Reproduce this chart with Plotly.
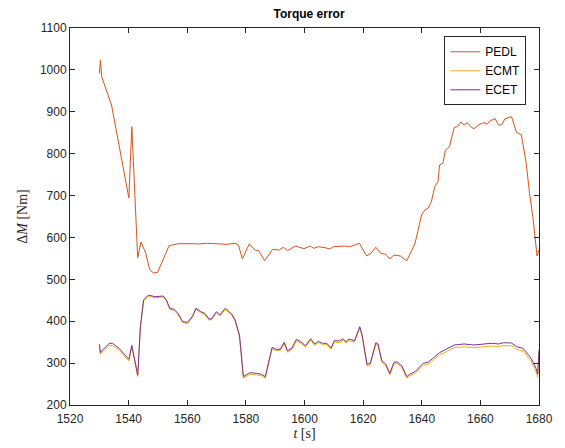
import plotly.graph_objects as go

# ---- data ----
t_pedl = [1530.04, 1530.38, 1530.81, 1534.16, 1540.08, 1541.09, 1543.10, 1544.20, 1545.87, 1547.11,
          1548.45, 1549.89, 1553.81, 1556.82, 1561.84, 1563.51, 1566.86, 1571.88, 1573.56, 1576.33,
          1577.47, 1578.81, 1581.15, 1583.03, 1584.37, 1586.38, 1589.19, 1591.40, 1592.74, 1594.21,
          1596.99, 1599.77, 1602.01, 1603.11, 1604.79, 1607.03, 1608.70, 1609.81, 1613.72, 1615.40,
          1617.07, 1618.75, 1621.19, 1622.66, 1624.34, 1626.01, 1627.68, 1629.12, 1630.46, 1632.70,
          1634.91, 1636.59, 1637.72, 1639.93, 1641.07, 1642.18, 1643.28, 1644.42, 1645.52, 1646.09,
          1647.20, 1648.10, 1649.44, 1651.11, 1652.22, 1653.32, 1654.46, 1655.57, 1656.67, 1657.81,
          1659.48, 1661.16, 1662.26, 1663.37, 1665.04, 1666.18, 1667.28, 1668.39, 1670.63, 1672.30,
          1673.98, 1675.65, 1676.76, 1677.90, 1679.33, 1680.00]
pedl = [991.9, 1023.6, 983.7, 916.2, 694.2, 864.4, 551.6, 589.1, 562.2, 524.7,
        515.1, 516.8, 580.3, 585.1, 585.1, 584.4, 586.0, 584.4, 583.6, 586.0,
        582.0, 548.5, 584.4, 570.0, 568.4, 544.5, 571.7, 570.0, 576.5, 568.4,
        579.6, 573.1, 579.6, 574.1, 577.9, 575.5, 572.4, 577.9, 579.6, 577.9,
        581.3, 586.0, 555.7, 562.2, 576.5, 562.2, 559.8, 548.5, 558.1, 555.7,
        544.5, 570.0, 586.0, 653.6, 665.5, 669.6, 685.3, 721.2, 733.1, 773.0,
        777.0, 808.8, 816.6, 863.0, 864.4, 875.6, 868.4, 874.0, 864.4, 859.6,
        869.1, 874.0, 870.1, 878.7, 883.5, 868.4, 868.4, 883.5, 888.3, 851.0,
        844.6, 777.0, 705.4, 649.5, 556.0, 570.0]

t_ec = [1530.04, 1530.38, 1531.15, 1533.39, 1534.49, 1536.74, 1540.08, 1541.09, 1543.10, 1544.00,
        1545.10, 1546.78, 1549.02, 1551.80, 1552.90, 1554.04, 1555.48, 1556.82, 1558.49, 1560.17,
        1561.84, 1562.95, 1564.62, 1565.96, 1567.43, 1568.20, 1569.97, 1571.11, 1572.99, 1575.23,
        1576.33, 1577.81, 1579.15, 1581.36, 1583.60, 1585.27, 1586.61, 1588.95, 1590.29, 1591.73,
        1593.07, 1594.21, 1595.65, 1597.22, 1598.66, 1600.34, 1602.11, 1603.45, 1604.79, 1606.13,
        1607.60, 1609.04, 1610.14, 1612.05, 1613.16, 1614.06, 1615.16, 1617.07, 1618.85, 1619.65,
        1621.32, 1622.43, 1624.34, 1625.11, 1626.35, 1627.68, 1629.12, 1630.46, 1631.57, 1633.24,
        1634.91, 1636.05, 1637.72, 1640.50, 1642.18, 1643.85, 1646.09, 1648.30, 1651.11, 1654.46,
        1657.81, 1661.16, 1663.94, 1666.18, 1667.85, 1670.63, 1672.30, 1674.54, 1677.32, 1678.99,
        1679.56, 1680.00]
ecet = [344.9, 324.9, 331.3, 347.3, 347.3, 335.4, 309.1, 342.5, 271.6, 386.9,
        450.7, 462.6, 458.5, 460.2, 450.7, 430.9, 428.5, 418.9, 398.9, 397.4,
        412.5, 430.9, 422.7, 418.9, 405.3, 405.3, 422.7, 414.9, 430.9, 416.5,
        402.9, 367.1, 267.6, 277.1, 275.7, 273.3, 267.6, 337.7, 333.0, 333.0,
        349.7, 329.6, 335.4, 356.8, 351.1, 341.6, 358.3, 345.6, 352.1, 347.3,
        347.3, 336.1, 353.5, 352.8, 358.3, 351.1, 357.6, 353.5, 386.9, 367.1,
        297.2, 299.6, 348.7, 345.6, 305.8, 297.9, 275.7, 301.0, 303.4, 293.0,
        267.6, 274.0, 279.5, 299.6, 301.9, 311.5, 324.9, 333.0, 343.2, 345.6,
        343.2, 345.6, 347.3, 345.6, 348.7, 348.0, 339.2, 335.4, 311.5, 287.6,
        274.0, 331.3]
ecmt = [340, 321, 327, 342, 342, 331, 305, 339, 268, 383,
        448, 460, 456, 458, 448, 428, 426, 416, 396, 395,
        410, 428, 420, 416, 403, 403, 420, 412, 428, 414,
        400, 364, 264, 273, 272, 270, 264, 334, 330, 330,
        346, 326, 332, 353, 348, 338, 355, 342, 349, 344,
        344, 333, 350, 349, 355, 348, 354, 350, 384, 364,
        294, 296, 345, 342, 302, 294, 272, 297, 300, 289,
        264, 270, 275, 295, 297, 306, 319, 327, 337, 339,
        337, 339, 341, 339, 342, 341, 333, 329, 305, 280,
        266, 326]

x_ticks = [1520, 1540, 1560, 1580, 1600, 1620, 1640, 1660, 1680]
y_ticks = [200, 300, 400, 500, 600, 700, 800, 900, 1000, 1100]

AX = "#262626"
FONT = "Liberation Sans, Arial, Helvetica, sans-serif"
SERIF = "Liberation Serif, Times New Roman, serif"

fig = go.Figure()
fig.add_trace(go.Scatter(x=t_pedl, y=pedl, mode="lines", name="PEDL",
                         line=dict(color="#D95319", width=1)))
fig.add_trace(go.Scatter(x=t_ec, y=ecmt, mode="lines", name="ECMT",
                         line=dict(color="#EDB120", width=1)))
fig.add_trace(go.Scatter(x=t_ec, y=ecet, mode="lines", name="ECET",
                         line=dict(color="#7E2F8E", width=1)))

fig.update_layout(
    width=565, height=448,
    margin=dict(l=70, r=17, t=28, b=43),
    paper_bgcolor="white", plot_bgcolor="white",
    font=dict(family=FONT, size=12, color=AX),
    title=dict(text="<b>Torque error</b>", x=(70 + 548) / 2 / 565, xanchor="center",
               y=1 - 14 / 448, yanchor="middle", font=dict(size=12, color="black")),
    showlegend=True,
    legend=dict(x=0.973, y=0.978, xanchor="right", yanchor="top",
                bgcolor="white", bordercolor=AX, borderwidth=1,
                font=dict(size=12, color="black"), itemwidth=30,
                tracegroupgap=0),
)
fig.update_xaxes(range=[1520, 1680], tickvals=x_ticks, ticks="inside", ticklen=5,
                 tickcolor=AX, showline=True, linecolor=AX, linewidth=1, mirror="ticks",
                 showgrid=False, zeroline=False, tickfont=dict(size=12, color=AX),
                 ticklabelstandoff=3,
                 title=dict(text="<i>t</i> [s]", font=dict(family=SERIF, size=14, color=AX),
                            standoff=0))
fig.update_yaxes(range=[200, 1100], tickvals=y_ticks, ticks="inside", ticklen=5,
                 tickcolor=AX, showline=True, linecolor=AX, linewidth=1, mirror="ticks",
                 showgrid=False, zeroline=False, tickfont=dict(size=12, color=AX),
                 title=dict(text="Δ<i>M</i> [Nm]", font=dict(family=SERIF, size=14, color=AX),
                            standoff=8))

fig.write_html("out.html")
